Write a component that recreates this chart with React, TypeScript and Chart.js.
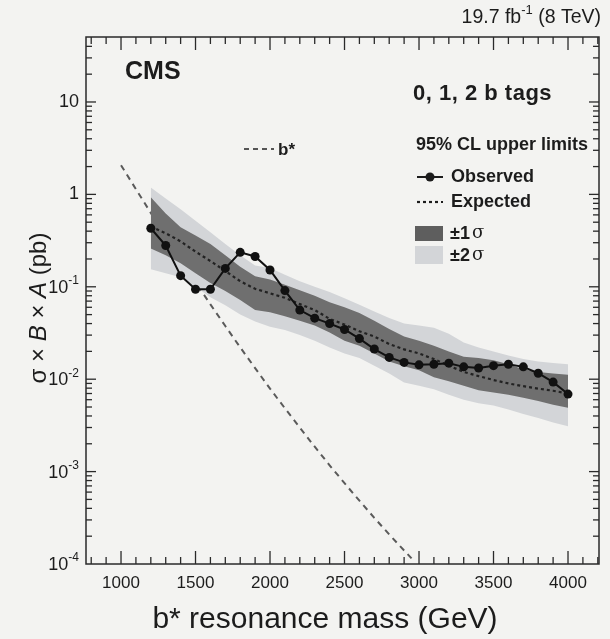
import React, { useEffect, useRef } from "react";
import { Chart, registerables } from "chart.js";

Chart.register(...registerables);

// ---- data ----
const MASS = [1200, 1300, 1400, 1500, 1600, 1700, 1800, 1900, 2000, 2100, 2200, 2300, 2400, 2500, 2600, 2700, 2800, 2900, 3000, 3100, 3200, 3300, 3400, 3500, 3600, 3700, 3800, 3900, 4000];

const OBSERVED = [0.43, 0.28, 0.132, 0.094, 0.094, 0.158, 0.236, 0.213, 0.152, 0.091, 0.056, 0.0458, 0.040, 0.0345, 0.0275, 0.0212, 0.0172, 0.0152, 0.0143, 0.0145, 0.0149, 0.0136, 0.0132, 0.014, 0.0145, 0.0136, 0.0116, 0.0093, 0.0069];

const EXPECTED = [0.45, 0.38, 0.31, 0.24, 0.19, 0.148, 0.115, 0.095, 0.085, 0.076, 0.065, 0.056, 0.045, 0.039, 0.033, 0.029, 0.024, 0.021, 0.019, 0.0165, 0.014, 0.012, 0.0108, 0.0098, 0.009, 0.0084, 0.0079, 0.0075, 0.007];

const SIGMA1_UP = [0.93, 0.62, 0.44, 0.36, 0.29, 0.22, 0.165, 0.13, 0.12, 0.105, 0.092, 0.08, 0.068, 0.06, 0.052, 0.043, 0.035, 0.029, 0.026, 0.023, 0.02, 0.0175, 0.017, 0.016, 0.0145, 0.0128, 0.012, 0.0115, 0.0112];

const SIGMA1_DOWN = [0.26, 0.22, 0.18, 0.14, 0.11, 0.09, 0.072, 0.056, 0.053, 0.048, 0.043, 0.038, 0.032, 0.026, 0.023, 0.019, 0.0155, 0.0138, 0.0125, 0.0105, 0.0095, 0.0085, 0.0076, 0.0072, 0.0068, 0.0063, 0.0058, 0.0053, 0.0049];

const SIGMA2_UP = [1.19, 0.9, 0.69, 0.52, 0.39, 0.29, 0.22, 0.17, 0.16, 0.135, 0.115, 0.1, 0.088, 0.075, 0.064, 0.054, 0.046, 0.04, 0.038, 0.036, 0.031, 0.025, 0.022, 0.02, 0.018, 0.0165, 0.0155, 0.015, 0.0145];

const SIGMA2_DOWN = [0.155, 0.14, 0.127, 0.1, 0.077, 0.063, 0.05, 0.042, 0.037, 0.034, 0.03, 0.026, 0.022, 0.019, 0.017, 0.014, 0.0115, 0.0092, 0.0085, 0.0078, 0.0068, 0.006, 0.0055, 0.0052, 0.0047, 0.0042, 0.0038, 0.0034, 0.0031];

const BSTAR_MASS = [1000, 1100, 1200, 1300, 1400, 1500, 1600, 1700, 1800, 1900, 2000, 2100, 2200, 2300, 2400, 2500, 2600, 2700, 2800, 2900, 2950];
const BSTAR_XSEC = [2.07, 1.14, 0.63, 0.35, 0.197, 0.112, 0.0646, 0.0376, 0.0221, 0.0132, 0.0079, 0.00484, 0.00299, 0.00186, 0.00117, 0.00075, 0.000484, 0.000316, 0.000209, 0.00014, 0.000115];

const X_TICK_LABELS = [1000, 1500, 2000, 2500, 3000, 3500, 4000];
const Y_TICK_EXPONENTS = [-4, -3, -2, -1, 0, 1];

const FONT = '"Liberation Sans", Arial, Helvetica, sans-serif';
const INK = "#1c1c1c";

export default function App() {
  const ref = useRef<HTMLCanvasElement>(null);

  useEffect(() => {
    const canvas = ref.current;
    if (!canvas) return;
    const pts = (xs: number[], ys: number[]) => xs.map((m, i) => ({ x: m, y: ys[i] }));

    const supText = (
      ctx: CanvasRenderingContext2D,
      base: string,
      sup: string,
      x: number,
      y: number,
      size: number,
      align: "left" | "right",
      weight = ""
    ) => {
      const bf = `${weight} ${size}px ${FONT}`;
      const sf = `${weight} ${Math.round(size * 0.68)}px ${FONT}`;
      ctx.font = bf;
      const wb = ctx.measureText(base).width;
      ctx.font = sf;
      const ws = ctx.measureText(sup).width;
      const x0 = align === "right" ? x - wb - ws : x;
      ctx.textAlign = "left";
      ctx.textBaseline = "middle";
      ctx.font = bf;
      ctx.fillText(base, x0, y);
      ctx.font = sf;
      ctx.fillText(sup, x0 + wb, y - size * 0.38);
      return x0 + wb + ws;
    };

    const overlay = {
      id: "overlay",
      beforeDraw(chart: any) {
        const c = chart.ctx;
        c.save();
        c.fillStyle = "#f3f3f1";
        c.fillRect(0, 0, chart.width, chart.height);
        c.restore();
      },
      afterDraw(chart: any) {
        const ctx: CanvasRenderingContext2D = chart.ctx;
        const a = chart.chartArea;
        const xs = chart.scales.x;
        const ys = chart.scales.y;
        ctx.save();
        ctx.strokeStyle = "#2a2a2a";
        ctx.fillStyle = INK;
        ctx.lineWidth = 1.5;
        ctx.strokeRect(a.left, a.top, a.right - a.left, a.bottom - a.top);

        const line = (x1: number, y1: number, x2: number, y2: number) => {
          ctx.beginPath();
          ctx.moveTo(x1, y1);
          ctx.lineTo(x2, y2);
          ctx.stroke();
        };
        ctx.lineWidth = 1.3;
        // x ticks (inward, top and bottom)
        for (let v = 800; v <= 4200; v += 100) {
          const px = xs.getPixelForValue(v);
          if (px <= a.left + 1 || px >= a.right - 1) continue;
          const L = v % 500 === 0 ? 13 : 7;
          line(px, a.bottom, px, a.bottom - L);
          line(px, a.top, px, a.top + L);
        }
        // y ticks (inward, left and right)
        for (let e = -4; e <= 1; e++) {
          for (let k = 1; k <= 9; k++) {
            const v = k * Math.pow(10, e);
            const py = ys.getPixelForValue(v);
            if (py < a.top + 1 || py > a.bottom - 0.5) continue;
            const L = k === 1 ? 10 : 6;
            line(a.left, py, a.left + L, py);
            line(a.right, py, a.right - L, py);
          }
        }

        // x tick labels
        ctx.fillStyle = INK;
        ctx.font = `17px ${FONT}`;
        ctx.textAlign = "center";
        ctx.textBaseline = "middle";
        for (const v of X_TICK_LABELS) {
          ctx.fillText(String(v), xs.getPixelForValue(v), 583);
        }
        // y tick labels
        for (const e of Y_TICK_EXPONENTS) {
          const py = ys.getPixelForValue(Math.pow(10, e));
          if (e === 0 || e === 1) {
            ctx.font = `18px ${FONT}`;
            ctx.textAlign = "right";
            ctx.textBaseline = "middle";
            ctx.fillText(e === 0 ? "1" : "10", 79, py);
          } else {
            supText(ctx, "10", String(e), 79, py + 1, 18, "right");
          }
        }

        // header
        ctx.fillStyle = INK;
        const HS = 19.5;
        ctx.font = `${HS}px ${FONT}`;
        const tail = " (8 TeV)";
        const wt = ctx.measureText(tail).width;
        ctx.font = `${Math.round(HS * 0.68)}px ${FONT}`;
        const wsup = ctx.measureText("-1").width;
        ctx.font = `${HS}px ${FONT}`;
        const wbase = ctx.measureText("19.7 fb").width;
        const hx = 601 - wt - wsup - wbase;
        const endx = supText(ctx, "19.7 fb", "-1", hx, 18, HS, "left");
        ctx.font = `${HS}px ${FONT}`;
        ctx.textAlign = "left";
        ctx.fillText(tail, endx, 18);

        // CMS label and category
        ctx.font = `bold 25px ${FONT}`;
        ctx.textAlign = "left";
        ctx.textBaseline = "middle";
        ctx.fillText("CMS", 125, 72);
        ctx.font = `bold 22px ${FONT}`;
        (ctx as any).letterSpacing = "0.5px";
        ctx.fillText("0, 1, 2 b tags", 413, 94);
        (ctx as any).letterSpacing = "0px";

        // b* legend
        ctx.strokeStyle = "#555";
        ctx.lineWidth = 2;
        ctx.setLineDash([5, 4]);
        line(244, 149, 274, 149);
        ctx.setLineDash([]);
        ctx.font = `bold 17px ${FONT}`;
        ctx.fillText("b*", 278, 150);

        // limits legend
        ctx.font = `bold 18px ${FONT}`;
        ctx.fillText("95% CL upper limits", 416, 145);
        ctx.strokeStyle = INK;
        ctx.lineWidth = 2;
        line(417, 177, 443, 177);
        ctx.beginPath();
        ctx.arc(430, 177, 4.5, 0, Math.PI * 2);
        ctx.fill();
        ctx.font = `bold 18px ${FONT}`;
        ctx.fillText("Observed", 451, 177);
        ctx.setLineDash([3, 3]);
        ctx.lineWidth = 2.2;
        line(417, 202, 443, 202);
        ctx.setLineDash([]);
        ctx.fillText("Expected", 451, 202);
        ctx.fillStyle = "#5e5e5e";
        ctx.fillRect(415, 226, 28, 15);
        ctx.fillStyle = "#d3d5d8";
        ctx.fillRect(415, 246, 28, 18);
        ctx.fillStyle = INK;
        ctx.font = `bold 18px ${FONT}`;
        ctx.fillText("\u00B11", 450, 234);
        let w = ctx.measureText("\u00B11").width;
        ctx.font = `18px "DejaVu Serif", serif`;
        ctx.fillText("\u03C3", 452 + w, 233);
        ctx.font = `bold 18px ${FONT}`;
        ctx.fillText("\u00B12", 450, 256);
        w = ctx.measureText("\u00B12").width;
        ctx.font = `18px "DejaVu Serif", serif`;
        ctx.fillText("\u03C3", 452 + w, 255);

        // x title
        ctx.font = `30px ${FONT}`;
        ctx.textAlign = "center";
        ctx.textBaseline = "middle";
        ctx.fillText("b* resonance mass (GeV)", 325, 620);

        // y title (rotated)
        const parts: [string, string][] = [
          ["\u03C3 \u00D7 ", `24px ${FONT}`],
          ["B", `italic 24px ${FONT}`],
          [" \u00D7 ", `24px ${FONT}`],
          ["A", `italic 24px ${FONT}`],
          [" (pb)", `24px ${FONT}`],
        ];
        let total = 0;
        for (const [t, f] of parts) {
          ctx.font = f;
          total += ctx.measureText(t).width;
        }
        ctx.translate(39, 308);
        ctx.rotate(-Math.PI / 2);
        ctx.textAlign = "left";
        let cx = -total / 2;
        for (const [t, f] of parts) {
          ctx.font = f;
          ctx.fillText(t, cx, 0);
          cx += ctx.measureText(t).width;
        }
        ctx.restore();
      },
    };

    const chart = new Chart(canvas, {
      type: "line",
      data: {
        datasets: [
          {
            label: "Observed",
            data: pts(MASS, OBSERVED),
            borderColor: "#111",
            backgroundColor: "#111",
            borderWidth: 2,
            pointRadius: 4.5,
            pointBackgroundColor: "#111",
            pointBorderWidth: 0,
            fill: false,
            tension: 0,
          },
          {
            label: "Expected",
            data: pts(MASS, EXPECTED),
            borderColor: "#222",
            borderWidth: 2.2,
            borderDash: [3, 3],
            pointRadius: 0,
            fill: false,
          },
          {
            label: "+1 sigma",
            data: pts(MASS, SIGMA1_UP),
            borderWidth: 0,
            borderColor: "rgba(0,0,0,0)",
            backgroundColor: "#6f6f6f",
            pointRadius: 0,
            fill: "+1",
          },
          {
            label: "-1 sigma",
            data: pts(MASS, SIGMA1_DOWN),
            borderWidth: 0,
            borderColor: "rgba(0,0,0,0)",
            pointRadius: 0,
            fill: false,
          },
          {
            label: "+2 sigma",
            data: pts(MASS, SIGMA2_UP),
            borderWidth: 0,
            borderColor: "rgba(0,0,0,0)",
            backgroundColor: "#d3d5d8",
            pointRadius: 0,
            fill: "+1",
          },
          {
            label: "-2 sigma",
            data: pts(MASS, SIGMA2_DOWN),
            borderWidth: 0,
            borderColor: "rgba(0,0,0,0)",
            pointRadius: 0,
            fill: false,
          },
          {
            label: "b*",
            data: pts(BSTAR_MASS, BSTAR_XSEC),
            borderColor: "#5a5a5a",
            borderWidth: 2,
            borderDash: [6, 5],
            pointRadius: 0,
            fill: false,
          },
        ],
      },
      options: {
        responsive: false,
        animation: false,
        events: [],
        layout: { padding: { left: 86, right: 11, top: 37, bottom: 75 } },
        scales: {
          x: { type: "linear", min: 765, max: 4208, display: false },
          y: { type: "logarithmic", min: 1e-4, max: 50.5, display: false },
        },
        plugins: {
          legend: { display: false },
          tooltip: { enabled: false },
        },
      },
      plugins: [overlay],
    } as any);

    return () => chart.destroy();
  }, []);

  return (
    <div style={{ position: "fixed", left: 0, top: 0, width: 610, height: 639 }}>
      <canvas ref={ref} width={610} height={639} style={{ display: "block", width: 610, height: 639 }} />
    </div>
  );
}
